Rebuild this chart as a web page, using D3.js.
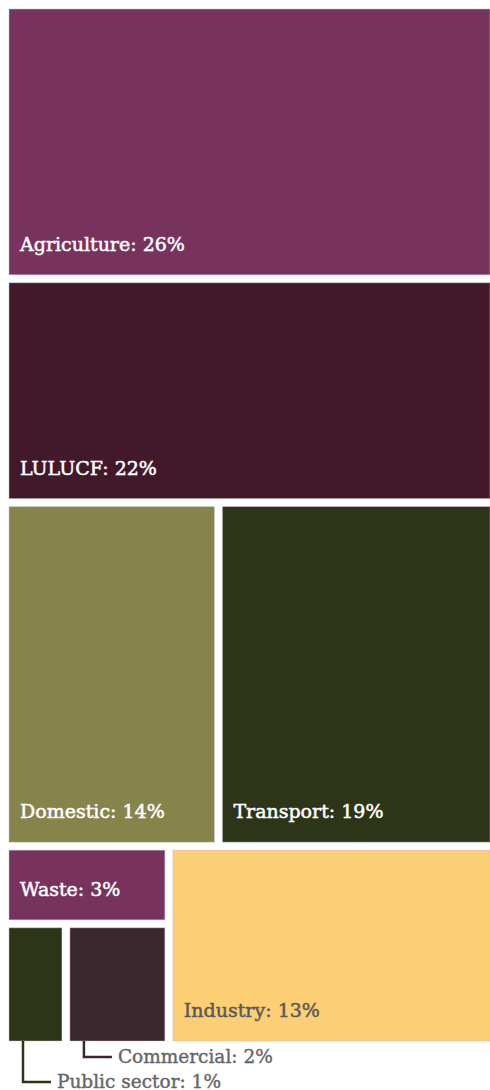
<!DOCTYPE html>
<html>
<head>
<meta charset="utf-8">
<script src="https://cdn.jsdelivr.net/npm/d3@7"></script>
<style>
  html, body { margin: 0; padding: 0; background: #fff; }
  svg { display: block; }
  text { font-family: "DejaVu Serif", "Liberation Serif", serif; }
</style>
</head>
<body>
<svg id="chart" width="490" height="1090"></svg>
<script>
// ---- data ----
const categories = ["Agriculture", "LULUCF", "Domestic", "Transport", "Waste", "Public sector", "Commercial", "Industry"];
// estimated shares of emissions (%), labels show rounded values
const shares = [26.3, 21.5, 14.4, 18.6, 2.5, 1.45, 2.45, 12.7];
// grouping path of each category inside the treemap
const groupPaths = ["", "", "g1", "g1", "g2/g3", "g2/g3/g4", "g2/g3/g4", "g2"];
const colors = ["#78325e", "#42192b", "#87844b", "#2d3519", "#78325e", "#2d3519", "#3b272d", "#fdcf74"];
const labelColors = ["#fff", "#fff", "#fff", "#fff", "#fff", "#fff", "#fff", "#5a5a5a"];
const outsideLabels = ["Commercial", "Public sector"]; // labelled below with leader lines

// ---- build hierarchy ----
const root = { name: "root", children: [] };
function getGroup(path) {
  let node = root;
  if (!path) return node;
  path.split("/").forEach(id => {
    let child = node.children.find(c => c.name === id);
    if (!child) { child = { name: id, children: [] }; node.children.push(child); }
    node = child;
  });
  return node;
}
categories.forEach((c, i) => {
  getGroup(groupPaths[i]).children.push({ name: c, value: shares[i], idx: i });
});

const margin = { top: 9, left: 9, right: 0, bottom: 49 };
const W = 490 - margin.left - margin.right;
const H = 1090 - margin.top - margin.bottom;

const hier = d3.hierarchy(root).sum(d => d.value || 0);
// root stacks vertically, next level side by side, alternating
const tile = (node, x0, y0, x1, y1) =>
  (node.depth & 1 ? d3.treemapDice : d3.treemapSlice)(node, x0, y0, x1, y1);
d3.treemap()
  .tile(tile)
  .size([W, H])
  .paddingInner(8)
  .round(false)(hier);

const svg = d3.select("#chart");
const g = svg.append("g").attr("transform", `translate(${margin.left},${margin.top})`);

const leaves = hier.leaves();

g.selectAll("rect.cell")
  .data(leaves)
  .join("rect")
  .attr("class", "cell")
  .attr("x", d => d.x0)
  .attr("y", d => d.y0)
  .attr("width", d => d.x1 - d.x0)
  .attr("height", d => d.y1 - d.y0)
  .attr("fill", d => colors[d.data.idx])
  .attr("stroke", "rgba(200,190,195,0.6)")
  .attr("stroke-width", 0.8);

const fmt = d => `${d.data.name}: ${Math.round(d.data.value)}%`;

// inside labels
g.selectAll("text.inlabel")
  .data(leaves.filter(d => !outsideLabels.includes(d.data.name)))
  .join("text")
  .attr("class", "inlabel")
  .attr("x", d => d.x0 + 11)
  .attr("y", d => d.y1 - 24)
  .attr("fill", d => labelColors[d.data.idx])
  .attr("stroke", d => labelColors[d.data.idx])
  .attr("stroke-width", 0.5)
  .attr("font-size", 19)
  .text(fmt);

// outside labels with leader lines
const outs = outsideLabels.map((name, k) => ({ node: leaves.find(l => l.data.name === name), level: k }));
outs.forEach(o => {
  const d = o.node;
  const lx = d.x0 + 14;
  const ly = d.y1 + 16 + o.level * 25;
  g.append("path")
    .attr("d", `M${lx},${d.y1}V${ly}H${lx + 28}`)
    .attr("fill", "none")
    .attr("stroke", colors[d.data.idx])
    .attr("stroke-width", 2.5);
  g.append("text")
    .attr("x", lx + 34)
    .attr("y", ly)
    .attr("dy", "0.35em")
    .attr("fill", "#666")
    .attr("stroke", "#666")
    .attr("stroke-width", 0.4)
    .attr("font-size", 18.5)
    .text(fmt(d));
});
</script>
</body>
</html>
